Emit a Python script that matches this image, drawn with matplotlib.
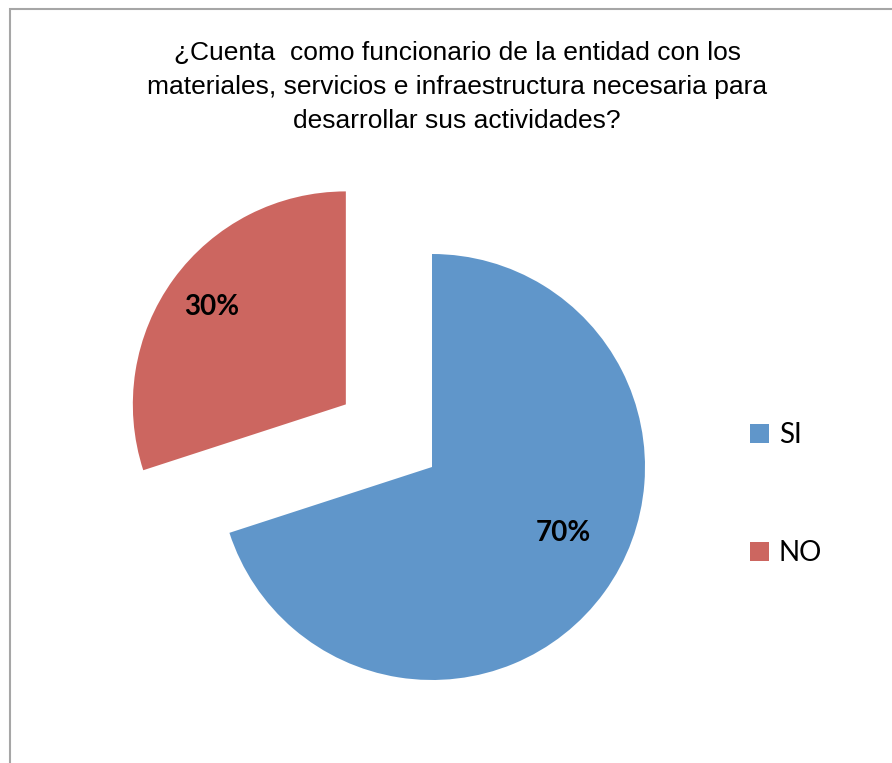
import matplotlib
matplotlib.use("Agg")
import matplotlib.pyplot as plt
from matplotlib.patches import Rectangle
import numpy as np

title = "¿Cuenta  como funcionario de la entidad con los\nmateriales, servicios e infraestructura necesaria para\ndesarrollar sus actividades?"
categories = ["SI", "NO"]
values = [70, 30]
colors = ["#6096CA", "#CC6660"]

W, H = 892, 763
R = 213
fig = plt.figure(figsize=(W / 100, H / 100), dpi=100)
fig.patch.set_facecolor("white")

# chart frame (only left and top edges visible)
fig.patches.append(Rectangle((10 / W, -0.05), 1.2, (H - 9) / H + 0.05,
                             transform=fig.transFigure, fill=False,
                             edgecolor="#A6A6A6", linewidth=1.5))

ax = fig.add_axes([0, 0, 1, 1])
ax.set_xlim(0, W)
ax.set_ylim(0, H)
ax.set_aspect("equal")
ax.axis("off")

wedges, texts, autotexts = ax.pie(
    values, colors=colors, startangle=90, counterclock=False,
    explode=[0, 0.5 * R], center=(432, H - 467), radius=R,
    autopct="%1.0f%%", pctdistance=0.78,
    textprops=dict(fontsize=20, fontweight="bold", family="Lato", color="black"),
    wedgeprops=dict(linewidth=0))
ax.set_xlim(0, W)
ax.set_ylim(0, H)

# SI label placed like the reference (Excel best-fit position)
ang = np.deg2rad(-26.7)
autotexts[0].set_position((432 + 146.7 * np.cos(ang), H - 467 + 146.7 * np.sin(ang)))

fig.text(457 / W, 1 - 87 / H, title, ha="center", va="center",
         fontsize=19, family="Liberation Sans", linespacing=1.55, color="black")

leg = fig.legend(wedges, categories, loc="center left",
                 bbox_to_anchor=(725 / W, 1 - 494 / H),
                 frameon=False, prop=dict(family="Lato", size=20),
                 handlelength=0.68, handleheight=0.68, handletextpad=0.35,
                 labelspacing=3.3)

fig.savefig("out.png", dpi=100, facecolor="white")
